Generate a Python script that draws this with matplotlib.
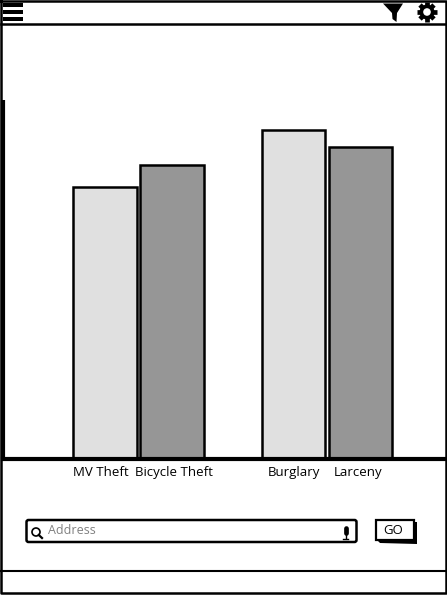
import matplotlib
matplotlib.use('Agg')
import matplotlib.pyplot as plt
from matplotlib.patches import Circle, Polygon, Rectangle, FancyBboxPatch

plt.rcParams['font.family'] = ['Open Sans', 'DejaVu Sans']

# bar data, values (axis units are pixels above baseline)
categories = ['MV Theft', 'Bicycle Theft', 'Burglary', 'Larceny']
bar_lefts = [73, 140, 262, 329]
bar_widths = [64, 64, 63, 63]
values = [272, 294, 329, 312]
bar_colors = ['#e0e0e0', '#969696', '#e0e0e0', '#969696']
label_pos = [101, 174, 294, 358]

W, H = 447, 595
fig = plt.figure(figsize=(W / 100, H / 100), dpi=100)

# overlay in pixel coordinates for the wireframe chrome
bg = fig.add_axes([0, 0, 1, 1])
bg.set_xlim(0, W)
bg.set_ylim(H, 0)
bg.axis('off')

# outer frame and horizontal rules
bg.plot([1, 445.5, 445.5, 1, 1], [1, 1, 593, 593, 1], color='black', lw=1.8)
bg.plot([1, 446], [24, 24], color='black', lw=1.8)
bg.plot([1, 446], [571, 571], color='black', lw=1.5)

# hamburger icon
for y in [3, 10, 17]:
    bg.add_patch(Rectangle((3, y), 20, 4, color='black', lw=0))

# filter icon
bg.add_patch(Polygon([(383, 3.5), (403, 3.5), (397, 13), (396.5, 22), (392.5, 19), (392, 13)],
                     closed=True, color='black', lw=0))

# gear icon: four bars through the centre make the teeth
gx, gy = 427, 12
for dx, dy in [(10, 0), (0, 10), (7, 7), (7, -7)]:
    bg.plot([gx - dx, gx + dx], [gy - dy, gy + dy], color='black', lw=3.4, solid_capstyle='butt')
bg.add_patch(Circle((gx, gy), 7.5, color='black', lw=0, zorder=3))
bg.add_patch(Circle((gx, gy), 3.8, color='white', lw=0, zorder=4))

# search box
bg.add_patch(FancyBboxPatch((26.5, 520), 330, 22, boxstyle='round,pad=0,rounding_size=2',
                            facecolor='white', edgecolor='black', lw=1.8))
bg.add_patch(Circle((36, 532), 4, facecolor='none', edgecolor='black', lw=1.2))
bg.plot([38.8, 42], [535, 538], color='black', lw=1.6)
bg.text(47.5, 530.5, 'Address', fontsize=9, color='#808080', ha='left', va='center', fontweight='medium')

# mic icon
bg.plot([345.5, 345.5], [528, 533], color='black', lw=3.4, solid_capstyle='round')
bg.plot([345.5, 345.5], [535, 538], color='black', lw=1)
bg.plot([343, 348], [538.5, 538.5], color='black', lw=1)

# GO button with heavy shadow
bg.add_patch(Polygon([(378, 541), (414, 522), (417, 522), (417, 544), (380, 543)],
                     closed=True, color='black', lw=0))
bg.add_patch(Rectangle((375.5, 519.5), 38, 20.5, facecolor='white', edgecolor='black', lw=1.6))
bg.text(393, 530, 'GO', fontsize=9.5, color='black', ha='center', va='center')

# chart axes: y=100 to y=459 in the picture
ax = fig.add_axes([3 / W, 1 - 459 / H, (W - 5) / W, 359 / H], facecolor='none')
ax.set_xlim(3, W - 2)
ax.set_ylim(0, 359)
ax.bar(bar_lefts, values, width=bar_widths, align='edge', color=bar_colors,
       edgecolor='black', linewidth=1.8)
ax.set_xticks(label_pos)
ax.set_xticklabels(categories, fontsize=9.5)
ax.tick_params(axis='x', length=0, pad=5)
ax.set_yticks([])
for side in ['top', 'right']:
    ax.spines[side].set_visible(False)
ax.spines['left'].set_linewidth(3)
ax.spines['left'].set_capstyle('butt')
ax.spines['bottom'].set_linewidth(3)

fig.savefig('out.png', dpi=100)
